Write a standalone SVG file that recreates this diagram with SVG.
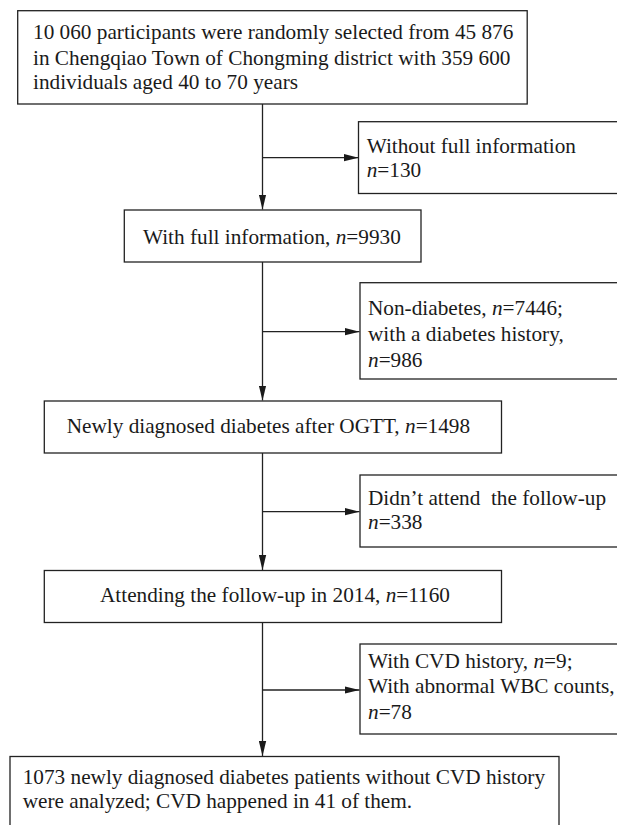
<svg xmlns="http://www.w3.org/2000/svg" width="617" height="825" viewBox="0 0 617 825">
<style>
.box{fill:#fff;stroke:#222;stroke-width:1.3}
.t{font-family:"Liberation Serif","Times New Roman",serif;font-size:21.25px;fill:#1a1a1a}
.i{font-style:italic}
.ln{stroke:#222;stroke-width:1.3;fill:none}
</style>
<defs>
<marker id="ah" markerUnits="userSpaceOnUse" markerWidth="15" markerHeight="8" refX="15" refY="4" orient="auto">
<path d="M0,0.3 L15,4 L0,7.7 Z" fill="#1a1a1a"/>
</marker>
</defs>
<rect width="617" height="825" fill="#fff"/>
<g id="connectors">
<line class="ln" x1="262.5" y1="104" x2="262.5" y2="209.5" marker-end="url(#ah)"/>
<line class="ln" x1="262.5" y1="262" x2="262.5" y2="400.5" marker-end="url(#ah)"/>
<line class="ln" x1="262.5" y1="453" x2="262.5" y2="570" marker-end="url(#ah)"/>
<line class="ln" x1="262.5" y1="622" x2="262.5" y2="756" marker-end="url(#ah)"/>
<line class="ln" x1="262.5" y1="157.7" x2="358.5" y2="157.7" marker-end="url(#ah)"/>
<line class="ln" x1="262.5" y1="331.7" x2="359.5" y2="331.7" marker-end="url(#ah)"/>
<line class="ln" x1="262.5" y1="511.7" x2="359.5" y2="511.7" marker-end="url(#ah)"/>
<line class="ln" x1="262.5" y1="690" x2="359.5" y2="690" marker-end="url(#ah)"/>
</g>
<g id="n1">
<rect class="box" x="17.7" y="10.7" width="509.5" height="93.3"/>
<text class="t" x="33" y="39.3">10 060 participants were randomly selected from 45 876</text>
<text class="t" x="33" y="65">in Chengqiao Town of Chongming district with 359 600</text>
<text class="t" x="33" y="88.5">individuals aged 40 to 70 years</text>
</g>
<g id="n2">
<rect class="box" x="358.5" y="121.7" width="262" height="71.8"/>
<text class="t" x="366.7" y="152.7">Without full information</text>
<text class="t" x="366.7" y="177"><tspan class="i">n</tspan>=130</text>
</g>
<g id="n3">
<rect class="box" x="124.3" y="210" width="296.7" height="52"/>
<text class="t" x="143" y="244">With full information, <tspan class="i">n</tspan>=9930</text>
</g>
<g id="n4">
<rect class="box" x="360" y="282.7" width="262" height="96.3"/>
<text class="t" x="368" y="315">Non-diabetes, <tspan class="i">n</tspan>=7446;</text>
<text class="t" x="368" y="340.7">with a diabetes history,</text>
<text class="t" x="368" y="366.7"><tspan class="i">n</tspan>=986</text>
</g>
<g id="n5">
<rect class="box" x="44.3" y="401" width="457.2" height="52"/>
<text class="t" x="66.7" y="433">Newly diagnosed diabetes after OGTT, <tspan class="i">n</tspan>=1498</text>
</g>
<g id="n6">
<rect class="box" x="360" y="475" width="262" height="72"/>
<text class="t" x="368" y="505" xml:space="preserve">Didn’t attend  the follow-up</text>
<text class="t" x="368" y="528.5"><tspan class="i">n</tspan>=338</text>
</g>
<g id="n7">
<rect class="box" x="44.3" y="570.5" width="457.2" height="52"/>
<text class="t" x="100" y="601.7">Attending the follow-up in 2014, <tspan class="i">n</tspan>=1160</text>
</g>
<g id="n8">
<rect class="box" x="360" y="644" width="262" height="90"/>
<text class="t" x="368" y="668">With CVD history, <tspan class="i">n</tspan>=9;</text>
<text class="t" x="368" y="693">With abnormal WBC counts,</text>
<text class="t" x="368" y="718.5"><tspan class="i">n</tspan>=78</text>
</g>
<g id="n9">
<rect class="box" x="10" y="756.5" width="549" height="80"/>
<text class="t" x="22.7" y="784">1073 newly diagnosed diabetes patients without CVD history</text>
<text class="t" x="22.7" y="808">were analyzed; CVD happened in 41 of them.</text>
</g>
</svg>
